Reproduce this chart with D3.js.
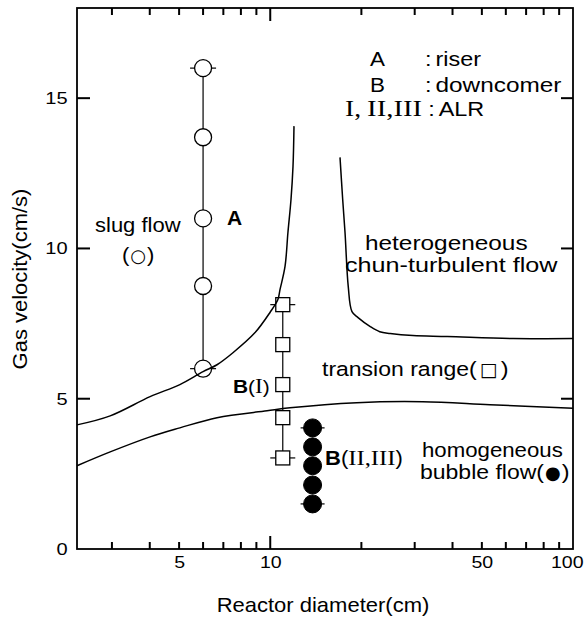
<!DOCTYPE html>
<html>
<head>
<meta charset="utf-8">
<script src="https://cdn.jsdelivr.net/npm/d3@7"></script>
<style>
  html, body { margin: 0; padding: 0; background: #fff; }
  svg { display: block; }
</style>
</head>
<body>
<script>
// ---------- data ----------
// x-axis (reactor diameter, cm, log scale)
const xDomain = [2.3, 100];
const yDomain = [0, 18];
const xTickLabels = [5, 10, 50, 100];
const xMinorTicks = [3, 4, 5, 6, 7, 8, 9, 20, 30, 40, 50, 60, 70, 80, 90];
const xMajorTicks = [10];
const yTickLabels = [0, 5, 10, 15];
const yLeftTicks = [5, 10, 15];
const yRightTicks = [5, 10, 15];

// boundary: slug flow / transition (left branch)
const slugBoundX = [2.3, 2.96, 4.01, 5.03, 6.0, 6.67, 7.53, 8.91, 9.98, 10.6, 10.77, 11.19, 11.44, 11.71, 11.89, 11.98];
const slugBoundY = [4.13, 4.43, 5.07, 5.47, 5.9, 6.13, 6.53, 7.2, 7.87, 8.3, 8.63, 9.4, 10.53, 11.63, 12.73, 14.07];

// boundary: heterogeneous / transition (right branch)
const heteroBoundX = [17.0, 17.35, 17.66, 18.1, 18.62, 19.5, 21.4, 23.0, 24.9, 29.6, 38.4, 63.4, 100];
const heteroBoundY = [13.03, 11.63, 10.53, 8.73, 7.9, 7.7, 7.4, 7.23, 7.17, 7.1, 7.07, 7.0, 7.0];

// boundary: homogeneous / transition
const homoBoundX = [2.3, 2.96, 4.01, 5.03, 6.67, 9.76, 11.62, 19.3, 31.9, 53.2, 100];
const homoBoundY = [2.77, 3.23, 3.73, 4.03, 4.37, 4.6, 4.7, 4.87, 4.9, 4.8, 4.68];

// A : riser (open circles)
const riserX = 6.0;
const riserY = [6.0, 8.75, 11.0, 13.7, 16.0];
// B(I) : downcomer (open squares)
const downIX = 11.0;
const downIY = [3.03, 4.37, 5.47, 6.8, 8.13];
// B(II,III) : downcomer (filled circles)
const downIIX = 13.8;
const downIIY = [1.5, 2.13, 2.77, 3.4, 4.03];

// ---------- drawing ----------
const W = 584, H = 618;
const SANS = "'Liberation Sans', Arial, Helvetica, sans-serif";
const SERIF = "'Liberation Serif', 'Times New Roman', serif";
const SYM = "'DejaVu Sans', sans-serif";

const svg = d3.select("body").append("svg")
  .attr("width", W).attr("height", H)
  .attr("viewBox", `0 0 ${W} ${H}`);
svg.append("rect").attr("width", W).attr("height", H).attr("fill", "#fff");

const x = d3.scaleLog().domain(xDomain).range([77, 573]);
const y = d3.scaleLinear().domain(yDomain).range([549, 8]);
const x0 = x.range()[0], x1 = x.range()[1];
const yb = y.range()[0], yt = y.range()[1];

function styleAxis(g) {
  g.select(".domain").remove();
  g.selectAll(".tick line").remove();
}
// bottom labels
const xl = svg.append("g").attr("transform", `translate(0,${yb})`)
  .call(d3.axisBottom(x).tickValues(xTickLabels).tickSize(0).tickPadding(7).tickFormat(d3.format("d")))
  .call(styleAxis);
xl.selectAll("text").attr("font-family", SANS).attr("font-size", 17).attr("fill", "#000")
  .attr("transform", "scale(1.15,1)");
xl.selectAll("text").filter(d => d === 100)
  .attr("text-anchor", "end").attr("x", (W - 1 - x1) / 1.15);

// left labels
const yl = svg.append("g").attr("transform", `translate(${x0},0)`)
  .call(d3.axisLeft(y).tickValues(yTickLabels).tickSize(0).tickPadding(8).tickFormat(d3.format("d")))
  .call(styleAxis);
yl.selectAll("text").attr("font-family", SANS).attr("font-size", 17).attr("fill", "#000")
  .attr("transform", "scale(1.18,1)");

// text helper: sequential parts, each with its own horizontal stretch
function label(px, py, parts, anchor, rot) {
  const g = svg.append("g");
  let cx = 0;
  parts.forEach(p => {
    const sx = p.sx || 1;
    const t = g.append("text")
      .attr("font-size", p.s || 19)
      .attr("font-family", p.f || SANS)
      .attr("font-weight", p.w || "normal")
      .attr("fill", "#000")
      .text(p.t);
    const w = t.node().getComputedTextLength() * sx;
    t.attr("transform", `translate(${cx},0) scale(${sx},1)`);
    cx += w + (p.gap || 0);
  });
  const dx = anchor === "middle" ? -cx / 2 : 0;
  g.attr("transform", `translate(${px},${py})${rot ? ` rotate(${rot})` : ""} translate(${dx},0)`);
  return g;
}

// axis titles
label(323, 612, [{t: "Reactor diameter(cm)", s: 20, sx: 1.1}], "middle");
label(27, 279, [{t: "Gas velocity(cm/s)", s: 20, sx: 1.1}], "middle", -90);

// connecting lines + caps
const lines = svg.append("g").attr("stroke", "#000").attr("stroke-width", 1.2);
function vline(xv, ys) {
  lines.append("line")
    .attr("x1", x(xv)).attr("x2", x(xv))
    .attr("y1", y(d3.min(ys))).attr("y2", y(d3.max(ys)));
}
function caps(xv, ys, half) {
  [d3.min(ys), d3.max(ys)].forEach(v => {
    lines.append("line")
      .attr("x1", x(xv) - half).attr("x2", x(xv) + half)
      .attr("y1", y(v)).attr("y2", y(v));
  });
}
vline(riserX, riserY);
vline(downIX, downIY);
caps(riserX, riserY, 13);
caps(downIX, downIY, 12.5);
caps(downIIX, downIIY, 12);

// markers
svg.append("g").selectAll("circle").data(riserY).join("circle")
  .attr("cx", x(riserX)).attr("cy", d => y(d)).attr("r", 8.5)
  .attr("fill", "#fff").attr("stroke", "#000").attr("stroke-width", 1.3);
svg.append("g").selectAll("rect").data(downIY).join("rect")
  .attr("x", x(downIX) - 7).attr("y", d => y(d) - 7).attr("width", 14).attr("height", 14)
  .attr("fill", "#fff").attr("stroke", "#000").attr("stroke-width", 1.3);
svg.append("g").selectAll("circle").data(downIIY).join("circle")
  .attr("cx", x(downIIX)).attr("cy", d => y(d)).attr("r", 9)
  .attr("fill", "#000").attr("stroke", "#000").attr("stroke-width", 1);

// boundary curves
const line = d3.line().x(d => x(d[0])).y(d => y(d[1])).curve(d3.curveCatmullRom.alpha(0.5));
const curves = [
  d3.zip(slugBoundX, slugBoundY),
  d3.zip(heteroBoundX, heteroBoundY),
  d3.zip(homoBoundX, homoBoundY)
];
svg.append("g").selectAll("path").data(curves).join("path")
  .attr("d", line).attr("fill", "none").attr("stroke", "#000").attr("stroke-width", 1.5);

// frame
svg.append("rect")
  .attr("x", x0).attr("y", yt).attr("width", x1 - x0).attr("height", yb - yt)
  .attr("fill", "none").attr("stroke", "#000").attr("stroke-width", 1.8);

// inward ticks
const tk = svg.append("g").attr("stroke", "#000").attr("stroke-width", 2);
function xTicks(vals, len) {
  tk.append("g").selectAll("line").data(vals).join("line")
    .attr("x1", d => x(d)).attr("x2", d => x(d))
    .attr("y1", yb).attr("y2", yb - len);
  tk.append("g").selectAll("line").data(vals).join("line")
    .attr("x1", d => x(d)).attr("x2", d => x(d))
    .attr("y1", yt).attr("y2", yt + len);
}
xTicks(xMinorTicks, 7);
xTicks(xMajorTicks, 13);
tk.append("g").selectAll("line").data(yLeftTicks).join("line")
  .attr("x1", x0).attr("x2", x0 + 13)
  .attr("y1", d => y(d)).attr("y2", d => y(d));
tk.append("g").selectAll("line").data(yRightTicks).join("line")
  .attr("x1", x1).attr("x2", x1 - 12)
  .attr("y1", d => y(d)).attr("y2", d => y(d));

// annotations
label(95, 232, [{t: "slug flow", s: 20, sx: 1.1}]);
label(122, 262, [{t: "(", s: 20, sx: 1.1, gap: 1}, {t: "○", f: SYM, s: 18, gap: 1}, {t: ")", s: 20, sx: 1.1}]);
label(227, 225, [{t: "A", w: "bold", s: 20, sx: 1.05}]);

label(370, 66, [{t: "A", s: 19.5, sx: 1.15}]);
label(425, 66, [{t: ":", s: 19.5, sx: 1.2, gap: 4}, {t: "riser", s: 19.5, sx: 1.2}]);
label(370, 92, [{t: "B", s: 19.5, sx: 1.15}]);
label(425, 92, [{t: ":", s: 19.5, sx: 1.2, gap: 4}, {t: "downcomer", s: 19.5, sx: 1.25}]);
label(345, 116, [{t: "I,", f: SERIF, s: 23, sx: 1.2, gap: 6}, {t: "II,III", f: SERIF, s: 23, sx: 1.25, gap: 6},
                 {t: ":", s: 19.5, sx: 1.2, gap: 4}, {t: "ALR", s: 19.5, sx: 1.2}]);

label(365, 250, [{t: "heterogeneous", s: 19.5, sx: 1.25}]);
label(345, 272, [{t: "chun-turbulent flow", s: 19.5, sx: 1.29}]);
label(322, 376, [{t: "transion range(", s: 19.5, sx: 1.18, gap: 3}, {t: "□", f: SYM, s: 19, gap: 3}, {t: ")", s: 19.5, sx: 1.2}]);
label(422, 457, [{t: "homogeneous", s: 19.5, sx: 1.14}]);
label(420, 479, [{t: "bubble flow(", s: 19.5, sx: 1.18, gap: 1}, {t: "●", f: SYM, s: 18, gap: 1}, {t: ")", s: 19.5, sx: 1.2}]);

label(233, 393, [{t: "B", w: "bold", s: 19, sx: 1.1}, {t: "(", s: 19, sx: 1.1}, {t: "I", f: SERIF, s: 21, sx: 1.1}, {t: ")", s: 19, sx: 1.1}]);
label(325, 465, [{t: "B", w: "bold", s: 20, sx: 1.1}, {t: "(", s: 20, sx: 1.1}, {t: "II,III", f: SERIF, s: 22, sx: 1.12}, {t: ")", s: 20, sx: 1.1}]);
</script>
</body>
</html>
